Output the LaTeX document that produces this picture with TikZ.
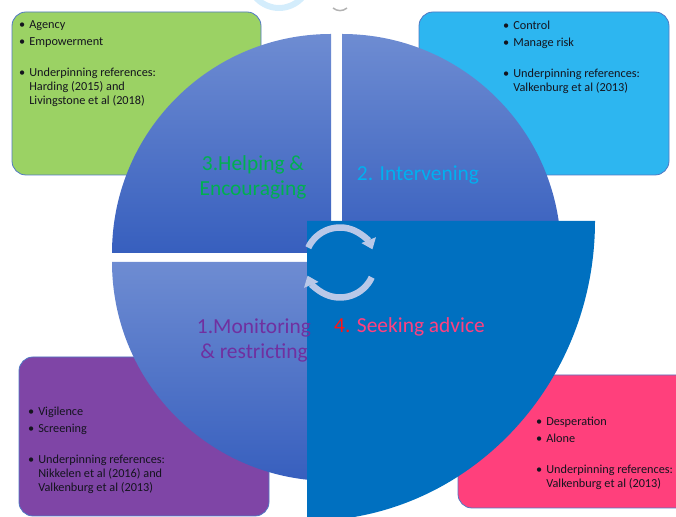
\documentclass[tikz,border=0pt]{standalone}
\usepackage{fontspec}
\setmainfont{Carlito}
\usetikzlibrary{arrows.meta}
\definecolor{qtop}{RGB}{110,140,210}
\definecolor{qbot}{RGB}{55,95,190}
\definecolor{qfour}{RGB}{0,112,192}
\definecolor{gbox}{RGB}{155,210,100}
\definecolor{bbox}{RGB}{45,182,240}
\definecolor{pbox}{RGB}{127,69,166}
\definecolor{kbox}{RGB}{255,64,124}
\definecolor{edgec}{RGB}{80,120,195}
\definecolor{lgreen}{RGB}{0,176,80}
\definecolor{lcyan}{RGB}{0,176,240}
\definecolor{lpurple}{RGB}{112,48,160}
\definecolor{lpink}{RGB}{255,64,128}
\definecolor{lred}{RGB}{255,20,20}
\definecolor{arrc}{RGB}{185,200,232}
\definecolor{ringc}{RGB}{212,237,252}
\definecolor{btxt}{RGB}{20,20,30}
\newcommand{\blist}[1]{\begin{tabular}[t]{@{}l@{\hspace{4bp}}l@{}}#1\end{tabular}}
\newcommand{\twoline}[2]{\begin{tabular}[t]{@{}c@{}}#1\\#2\end{tabular}}
\begin{document}
\begin{tikzpicture}[x=1bp,y=1bp,
  infobox/.style={draw=edgec,line width=0.8bp,rounded corners=14bp},
  boxtext/.style={anchor=base west,inner sep=0pt,text=btxt,font=\fontsize{12.3}{14}\selectfont},
  bigtext/.style={anchor=base,inner sep=0pt,font=\fontsize{21.5}{25}\selectfont},
  quarter/.style={top color=qtop,bottom color=qbot},
  cyc/.style={draw=arrc,line width=6.5bp,-{Triangle[width=15bp,length=10bp]}}]
\useasboundingbox (0,0) rectangle (676,517);
\begin{scope}
\clip (0,0) rectangle (676,517);
% artefacts at the top edge
\fill[ringc,even odd rule] (279,540) circle[radius=34] (279,540) circle[radius=28];
\draw[gray!60,line width=1.5bp] (333,509) to[bend right=40] (347,509);
% boxes
\filldraw[infobox,fill=gbox] (12,342) rectangle (261,505);
\filldraw[infobox,fill=bbox] (419,342) rectangle (669,505);
\filldraw[infobox,fill=pbox] (19,1) rectangle (269,160);
\filldraw[infobox,fill=kbox] (458,9) rectangle (700,142);
% quarters
\shade[quarter] (331,264) -- (112,264) arc[start angle=180,end angle=90,radius=219] -- cycle;
\shade[quarter] (342,264) -- (342,483) arc[start angle=90,end angle=0,radius=219] -- cycle;
\shade[quarter] (331,255) -- (112,255) arc[start angle=180,end angle=270,radius=219] -- cycle;
\fill[qfour] (307,296) -- (595,296) arc[start angle=0,end angle=-90,x radius=288,y radius=300] -- cycle;
\end{scope}
% cycle arrows
\coordinate (cc) at (340,254.5);
\draw[cyc] ([shift={(155:35)}]cc) arc[start angle=155,end angle=22,radius=35];
\draw[cyc] ([shift={(-25:35)}]cc) arc[start angle=-25,end angle=-158,radius=35];
% box texts
\node[boxtext] (gtext) at (19,488) {\blist{\textbullet & Agency\\[3bp] \textbullet & Empowerment\\[17bp] \textbullet & Underpinning references:\\ & Harding (2015) and\\ & Livingstone et al (2018)}};
\node[boxtext] (btext) at (503,487) {\blist{\textbullet & Control\\[3bp] \textbullet & Manage risk\\[17bp] \textbullet & Underpinning references:\\ & Valkenburg et al (2013)}};
\node[boxtext] (ptext) at (28,101) {\blist{\textbullet & Vigilence\\[3bp] \textbullet & Screening\\[17bp] \textbullet & Underpinning references:\\ & Nikkelen et al (2016) and\\ & Valkenburg et al (2013)}};
\node[boxtext] (ktext) at (536,91) {\blist{\textbullet & Desperation\\[3bp] \textbullet & Alone\\[17bp] \textbullet & Underpinning references:\\ & Valkenburg et al (2013)}};
% quarter labels
\node[bigtext,text=lgreen] (l3) at (253,346) {\twoline{3.Helping \&}{Encouraging}};
\node[bigtext,text=lcyan] (l2) at (418,336) {2. Intervening};
\node[bigtext,text=lpurple] (l1) at (254,183) {\twoline{1.Monitoring}{\& restricting}};
\node[bigtext,text=lpink] (l4) at (409.5,184) {\textcolor{lred}{4.} Seeking advice};
\end{tikzpicture}
\end{document}
